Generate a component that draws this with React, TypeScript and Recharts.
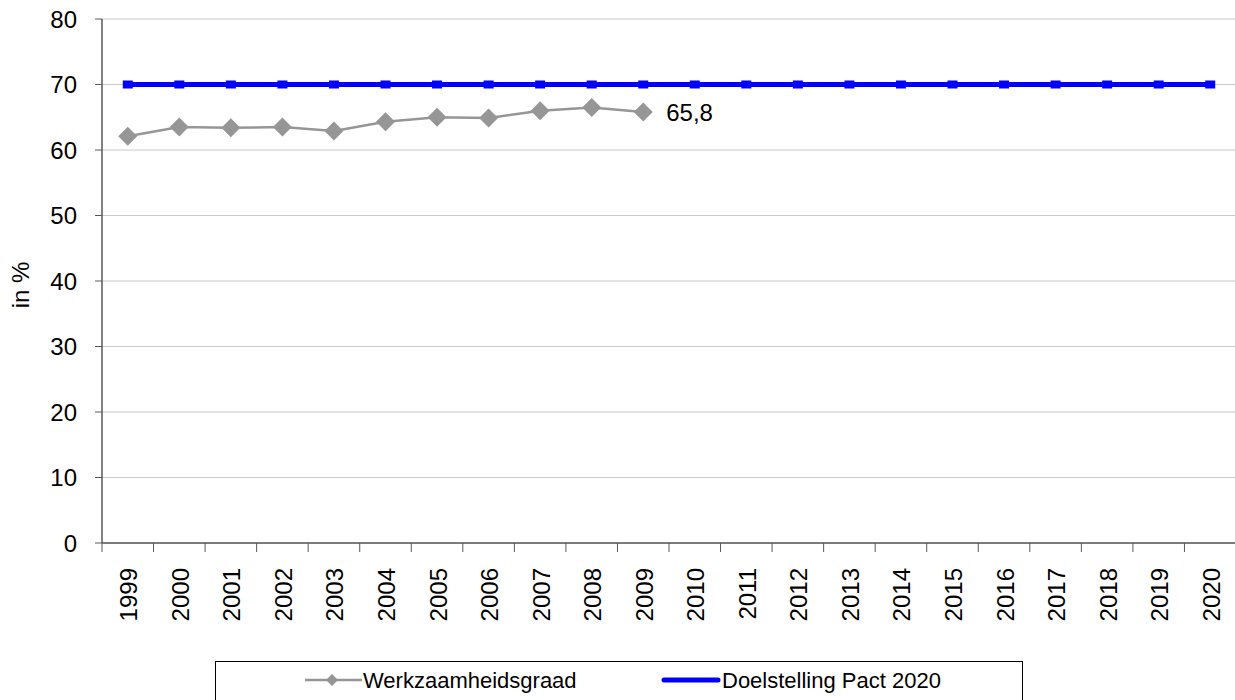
import { LineChart, Line, XAxis, YAxis, CartesianGrid, LabelList } from 'recharts'

const years = [
  '1999', '2000', '2001', '2002', '2003', '2004', '2005', '2006', '2007', '2008', '2009',
  '2010', '2011', '2012', '2013', '2014', '2015', '2016', '2017', '2018', '2019', '2020',
]
// Werkzaamheidsgraad, only known up to 2009
const werkzaamheidsgraad = [62.1, 63.5, 63.4, 63.5, 62.9, 64.3, 65.0, 64.9, 66.0, 66.5, 65.8]
// Doelstelling Pact 2020
const doelstelling = [70, 70, 70, 70, 70, 70, 70, 70, 70, 70, 70, 70, 70, 70, 70, 70, 70, 70, 70, 70, 70, 70]
const yTicks = [0, 10, 20, 30, 40, 50, 60, 70, 80]

const data = years.map((year, i) => ({
  year,
  werk: werkzaamheidsgraad[i] ?? null,
  doel: doelstelling[i],
}))

const FONT = '"Liberation Sans", Arial, sans-serif'
const PLOT_LEFT = 102
const PLOT_RIGHT = 1236
const HALF_BAND = (PLOT_RIGHT - PLOT_LEFT) / years.length / 2
const AXIS = '#595959'

const XTick = (props: any) => {
  const { x, y, payload, index } = props
  const isLast = index === years.length - 1
  return (
    <g>
      <line x1={x - HALF_BAND} x2={x - HALF_BAND} y1={y} y2={y + 9} stroke={AXIS} />
      {isLast && <line x1={x + HALF_BAND} x2={x + HALF_BAND} y1={y} y2={y + 9} stroke={AXIS} />}
      <text
        x={x + 1}
        y={y + 25}
        transform={`rotate(-90, ${x + 1}, ${y + 25})`}
        textAnchor="end"
        dominantBaseline="central"
        fontSize={24}
        fontFamily={FONT}
        fill="#000"
      >
        {payload.value}
      </text>
    </g>
  )
}

const Diamond = (props: any) => {
  const { cx, cy } = props
  if (cx == null || cy == null) return <g />
  const r = 9.5
  return (
    <polygon
      points={`${cx},${cy - r} ${cx + r},${cy} ${cx},${cy + r} ${cx - r},${cy}`}
      fill="#969696"
    />
  )
}

const BlueSquare = (props: any) => {
  const { cx, cy } = props
  if (cx == null || cy == null) return <g />
  return <rect x={cx - 5} y={cy - 4} width={10} height={8} fill="#0000ff" />
}

const LastLabel = (props: any) => {
  const { x, y, value, index } = props
  if (index !== werkzaamheidsgraad.length - 1) return null
  return (
    <text x={x + 23} y={y} dominantBaseline="central" fontSize={24} fontFamily={FONT} fill="#000">
      {String(value).replace('.', ',')}
    </text>
  )
}

const YLabel = (props: any) => {
  const { viewBox } = props
  const cy = viewBox.y + viewBox.height / 2 + 4
  return (
    <text
      x={20}
      y={cy}
      transform={`rotate(-90, 20, ${cy})`}
      textAnchor="middle"
      dominantBaseline="central"
      fontSize={24}
      fontFamily={FONT}
      fill="#000"
    >
      in %
    </text>
  )
}

export default function App() {
  return (
    <div
      style={{
        position: 'absolute',
        left: 0,
        top: 0,
        width: 1235,
        height: 700,
        overflow: 'hidden',
        background: '#fff',
        fontFamily: FONT,
      }}
    >
      <LineChart
        width={1240}
        height={700}
        data={data}
        margin={{ top: 19, right: 1240 - PLOT_RIGHT, left: 0, bottom: 0 }}
      >
        <CartesianGrid horizontal vertical={false} stroke="#c8c8c8" />
        <XAxis
          dataKey="year"
          type="category"
          height={157}
          padding={{ left: HALF_BAND, right: HALF_BAND }}
          axisLine={{ stroke: AXIS, strokeWidth: 1.5 }}
          tickLine={false}
          tickSize={0}
          tickMargin={0}
          tick={<XTick />}
          interval={0}
        />
        <YAxis
          domain={[0, 80]}
          ticks={yTicks}
          width={PLOT_LEFT}
          axisLine={{ stroke: AXIS, strokeWidth: 1.5 }}
          tickLine={{ stroke: AXIS }}
          tickSize={7}
          tickMargin={18}
          tick={{ fill: '#000', fontSize: 24, fontFamily: FONT }}
          label={<YLabel />}
        />
        <Line
          dataKey="werk"
          stroke="#969696"
          strokeWidth={2.5}
          dot={<Diamond />}
          activeDot={false}
          isAnimationActive={false}
        >
          <LabelList dataKey="werk" content={<LastLabel />} />
        </Line>
        <Line
          dataKey="doel"
          stroke="#0000ff"
          strokeWidth={5}
          dot={<BlueSquare />}
          activeDot={false}
          isAnimationActive={false}
        />
      </LineChart>
      <div
        style={{
          position: 'absolute',
          left: 215,
          top: 661,
          width: 808,
          height: 50,
          border: '1px solid #000',
          boxSizing: 'border-box',
        }}
      >
        <svg width={808} height={50} style={{ position: 'absolute', left: -1, top: -1 }}>
          <line x1={90} x2={147} y1={19} y2={19} stroke="#969696" strokeWidth={2.5} />
          <polygon points="117,13 123,19 117,25 111,19" fill="#969696" />
          <text x={148} y={19} dominantBaseline="central" fontSize={22} fontFamily={FONT} fill="#000">
            Werkzaamheidsgraad
          </text>
          <line x1={449} x2={503} y1={19} y2={19} stroke="#0000ff" strokeWidth={5} strokeLinecap="round" />
          <text x={507} y={19} dominantBaseline="central" fontSize={22} fontFamily={FONT} fill="#000">
            Doelstelling Pact 2020
          </text>
        </svg>
      </div>
    </div>
  )
}
